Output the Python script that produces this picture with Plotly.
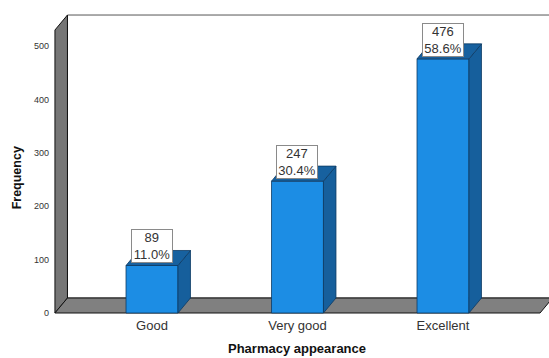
import plotly.graph_objects as go

# Survey results: pharmacy appearance ratings
categories = ["Good", "Very good", "Excellent"]
counts = [89, 247, 476]
y_ticks = [0, 100, 200, 300, 400, 500]

total = sum(counts)
percents = [c / total * 100 for c in counts]

# Pseudo-3D geometry (data units)
BAR_W = 0.357          # bar width on the category axis
DX = 0.086             # depth offset along x
DY = 28.1              # depth offset along y
X_LEFT = -0.667        # front-left corner of the floor / side wall
X_RIGHT = 2.667        # front-right corner of the floor
WALL_TOP = 530

FRONT = "#1c8de4"
SIDE = "#165f9c"
TOP = "#17619f"
GREY = "#808080"
FONT = "Liberation Sans, Arial, sans-serif"

x_pos = list(range(len(categories)))


def poly(points):
    return "M " + " L ".join(f"{x},{y}" for x, y in points) + " Z"


shapes = []
# back wall
shapes.append(dict(type="path", xref="x", yref="y", layer="below",
                   path=poly([(X_LEFT + DX, DY), (X_LEFT + DX, WALL_TOP + DY),
                              (3.2, WALL_TOP + DY), (3.2, DY)]),
                   fillcolor="white", line=dict(color="#555555", width=1)))
# left wall
shapes.append(dict(type="path", xref="x", yref="y", layer="below",
                   path=poly([(X_LEFT, 0), (X_LEFT, WALL_TOP),
                              (X_LEFT + DX, WALL_TOP + DY), (X_LEFT + DX, DY)]),
                   fillcolor="#767676", line=dict(color="#111111", width=1)))
# floor
shapes.append(dict(type="path", xref="x", yref="y", layer="below",
                   path=poly([(X_LEFT, 0), (X_RIGHT, 0),
                              (X_RIGHT + DX, DY), (X_LEFT + DX, DY)]),
                   fillcolor=GREY, line=dict(color="#111111", width=1)))

# side and top faces of each bar
for x, v in zip(x_pos, counts):
    xl, xr = x - BAR_W / 2, x + BAR_W / 2
    shapes.append(dict(type="path", xref="x", yref="y", layer="above",
                       path=poly([(xr, 0), (xr, v), (xr + DX, v + DY), (xr + DX, DY)]),
                       fillcolor=SIDE, line=dict(color="#0d3a63", width=0.8)))
    shapes.append(dict(type="path", xref="x", yref="y", layer="above",
                       path=poly([(xl, v), (xr, v), (xr + DX, v + DY), (xl + DX, v + DY)]),
                       fillcolor=TOP, line=dict(color="#0d3a63", width=0.8)))

fig = go.Figure()
fig.add_trace(go.Bar(
    x=x_pos, y=counts, width=BAR_W,
    marker=dict(color=FRONT, line=dict(color="#0d3a63", width=0.8)),
    hoverinfo="skip",
))

annotations = []
for x, v, p in zip(x_pos, counts, percents):
    annotations.append(dict(
        x=x, y=v, xref="x", yref="y", text=f"{v}<br>{p:.1f}%",
        showarrow=False, yanchor="bottom", yshift=2, width=40,
        bgcolor="white", bordercolor="#8a8a8a", borderwidth=1, borderpad=0,
        font=dict(family=FONT, size=13, color="#333333"),
    ))
annotations.append(dict(
    x=-0.066, y=0.45, xref="paper", yref="paper", text="<b>Frequency</b>",
    textangle=-90, showarrow=False, xanchor="center", yanchor="middle",
    font=dict(family=FONT, size=12.5, color="#111111"),
))
annotations.append(dict(
    x=0.495, y=-0.105, xref="paper", yref="paper", text="<b>Pharmacy appearance</b>",
    showarrow=False, xanchor="center", yanchor="middle",
    font=dict(family=FONT, size=13, color="#111111"),
))

fig.update_layout(
    width=549, height=358,
    margin=dict(l=50, r=0, t=10, b=42),
    paper_bgcolor="white", plot_bgcolor="white",
    showlegend=False, shapes=shapes, annotations=annotations,
    xaxis=dict(range=[-0.701, 2.7286], tickvals=x_pos, ticktext=categories,
               showgrid=False, zeroline=False, showline=False, ticks="",
               tickfont=dict(family=FONT, size=13, color="#333333")),
    yaxis=dict(range=[-5.6, 567.5], tickvals=y_ticks,
               showgrid=False, zeroline=False, showline=False, ticks="",
               tickfont=dict(family=FONT, size=9, color="#333333")),
)

fig.write_html("out.html")
